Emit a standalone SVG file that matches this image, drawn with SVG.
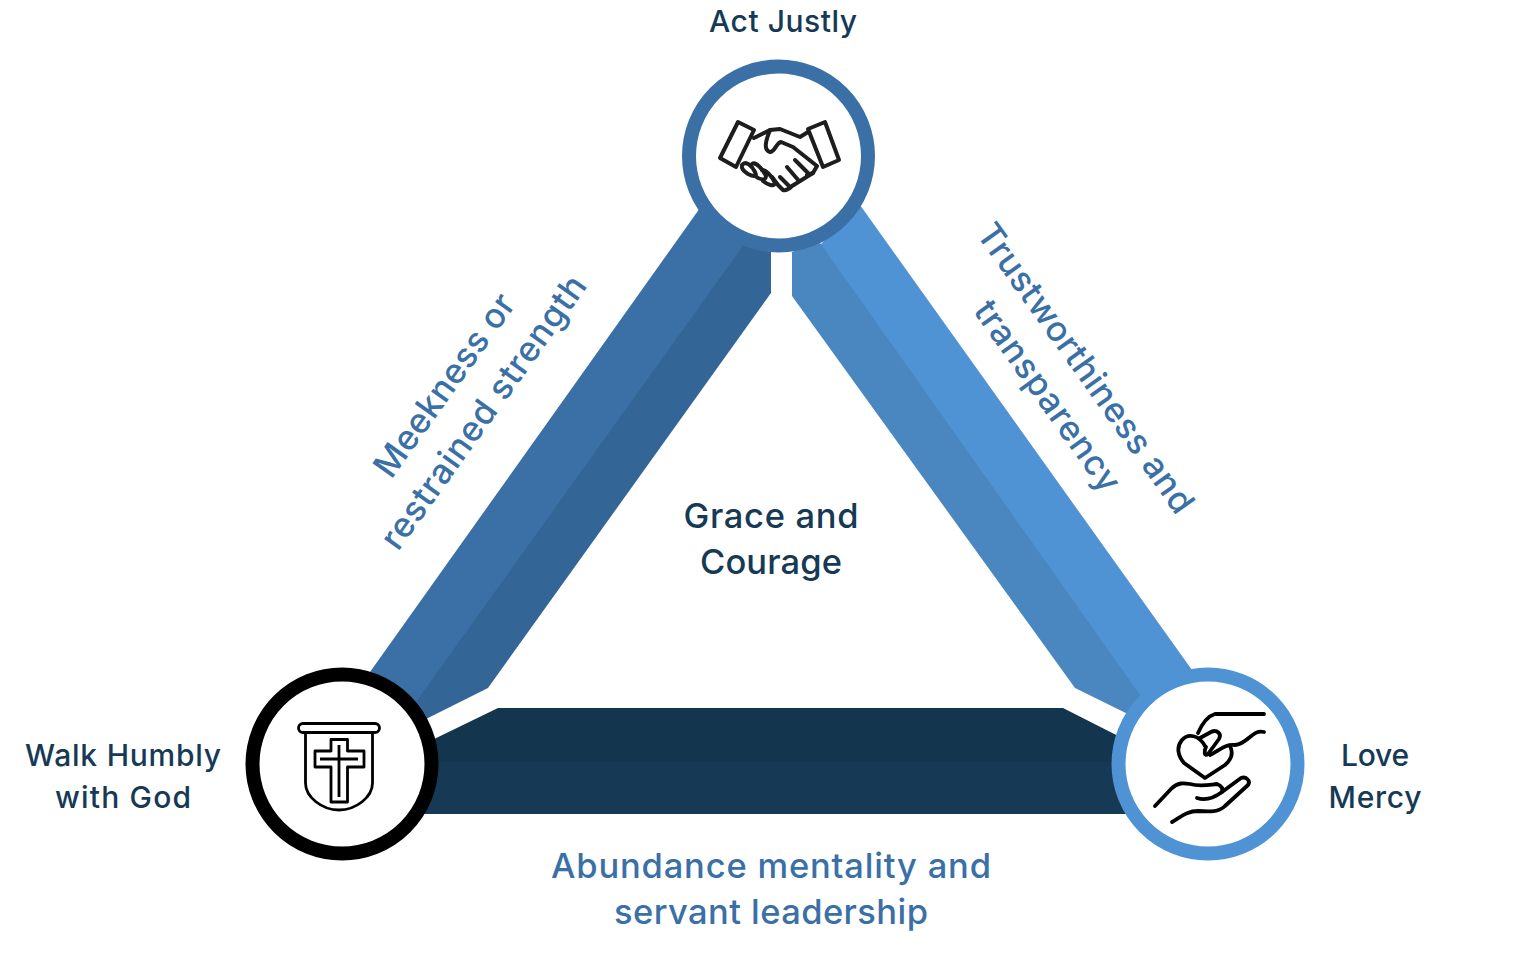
<svg xmlns="http://www.w3.org/2000/svg" width="1520" height="961" viewBox="0 0 1520 961">
<style>
text{font-family:"Inter","Noto Sans",sans-serif;font-size:30px;font-weight:500;text-anchor:middle}
.l{font-size:34.500px}
.n{fill:#163a55}
.b{fill:#3b70a7}
.ring{fill:#fff;stroke-width:14}
.ico{fill:none;stroke:#1d1d1d;stroke-width:4;stroke-linecap:round;stroke-linejoin:round}
.ico2{fill:none;stroke:#000;stroke-width:2.800;stroke-linejoin:round}
.ico3{fill:none;stroke:#000;stroke-width:3.800;stroke-linecap:round;stroke-linejoin:round}
</style>
<rect width="1520" height="961" fill="#fff"/>
<g id="connectors">
<polygon points="700,208 370,672 342,764 415,722 490,600 745,245" fill="#3b70a7"/>
<polygon points="745,243 771,252 771,293 488,688 420,722 413,706" fill="#336597"/>
<polygon points="860,205 1192,670 1208,764 1140,700 820,245" fill="#4f93d4"/>
<polygon points="820,243 792,252 792,296 1075,688 1140,720 1140,695" fill="#4a86bf"/>
<polygon points="498,708 1063,708 1130,742 1130,762 430,762 430,741" fill="#13354e"/>
<rect x="410" y="762" width="730" height="52" fill="#163a55"/>
</g>
<g id="node-act-justly">
<circle class="ring" cx="778.500" cy="156" r="89.500" stroke="#3b70a7"/>
<text class="n" x="783" y="32" textLength="148">Act Justly</text>
<g class="ico">
<path d="M738,122 L754,130 L736,167 L720,158 Z"/>
<path d="M825,122 L839,160 L823,167 L808,129 Z"/>
<path d="M754,138 L770,130 C766,140 763,150 770,152 C775,152 776,143 781,142 L793,147 L817,166 L813,173 L807,175"/>
<path d="M770,130 L780,129 L800,137 L808,132"/>
<path d="M742,165 C746,160 752,166 755,172 C758,178 752,176 748,174 C744,171 741,169 742,165 Z"/>
<path d="M752,164 C756,161 763,170 766,176 C766,181 760,180 755,176"/>
<path d="M762,170 C766,170 772,176 775,183 C774,187 768,185 763,181"/>
<path d="M772,177 L778,185 L783,190 C787,191 790,188 792,186 L813,173"/>
<path d="M795,160 L808,173 M787,167 L799,181 M780,177 L789,186"/>
</g>
</g>
<g id="node-walk-humbly">
<circle class="ring" cx="342" cy="764" r="89.500" stroke="#000"/>
<text class="n" x="123" y="766" textLength="196">Walk Humbly</text>
<text class="n" x="123" y="808" textLength="136">with God</text>
<g class="ico2">
<rect x="298.500" y="723.500" width="81" height="9" rx="4.500"/>
<path d="M305.500,733 V783 C305.500,797 322,810 339,810 C356,810 372.500,797 372.500,783 V733"/>
<path d="M331,739.500 H347.500 V751 H364 V767 H347.500 V802 H331 V767 H315 V751 H331 Z"/>
<path d="M339,745 V797 M320,759 H358"/>
</g>
</g>
<g id="node-love-mercy">
<circle class="ring" cx="1208" cy="764" r="89.500" stroke="#4f93d4"/>
<text class="n" x="1375" y="766" textLength="68">Love</text>
<text class="n" x="1375" y="808" textLength="93">Mercy</text>
<g class="ico3">
<path d="M1264,714 H1215 C1208,716 1202,724 1198,733"/>
<path d="M1264,732 C1252,729 1248,744 1235,745 C1225,744 1220,750 1210,755"/>
<path d="M1200,738 L1211,732 C1217,729 1222,734 1219,739 L1208,754 C1204,757 1204,751 1206,747"/>
<path d="M1205,746 C1199,735 1188,733 1182,740 C1176,747 1178,756 1184,763 L1205,778 L1225,765 C1232,759 1233,752 1230,746"/>
<path d="M1155,806 L1171,789 C1178,782 1184,783 1190,784 C1200,787 1208,785 1217,784 C1222,786 1223,789 1222,792"/>
<path d="M1197,798 C1206,801 1214,798 1222,792 L1241,778 C1246,776 1251,781 1248,785 L1225,806 C1219,812 1210,812 1198,811 C1188,811 1182,816 1172,822"/>
</g>
</g>
<g id="labels">
<text class="n l" x="771" y="528" textLength="175">Grace and</text>
<text class="n l" x="771" y="574" textLength="142">Courage</text>
<text class="b l" x="771" y="878" textLength="440">Abundance mentality and</text>
<text class="b l" x="771" y="924" textLength="314">servant leadership</text>
<text class="b l" transform="translate(454,392) rotate(-54.500)" textLength="216">Meekness or</text>
<text class="b l" transform="translate(493,419) rotate(-54.500)" textLength="327">restrained strength</text>
<text class="b l" transform="translate(1076,375) rotate(54.500)" textLength="347">Trustworthiness and</text>
<text class="b l" transform="translate(1038,403) rotate(54.500)" textLength="226">transparency</text>
</g>
</svg>
